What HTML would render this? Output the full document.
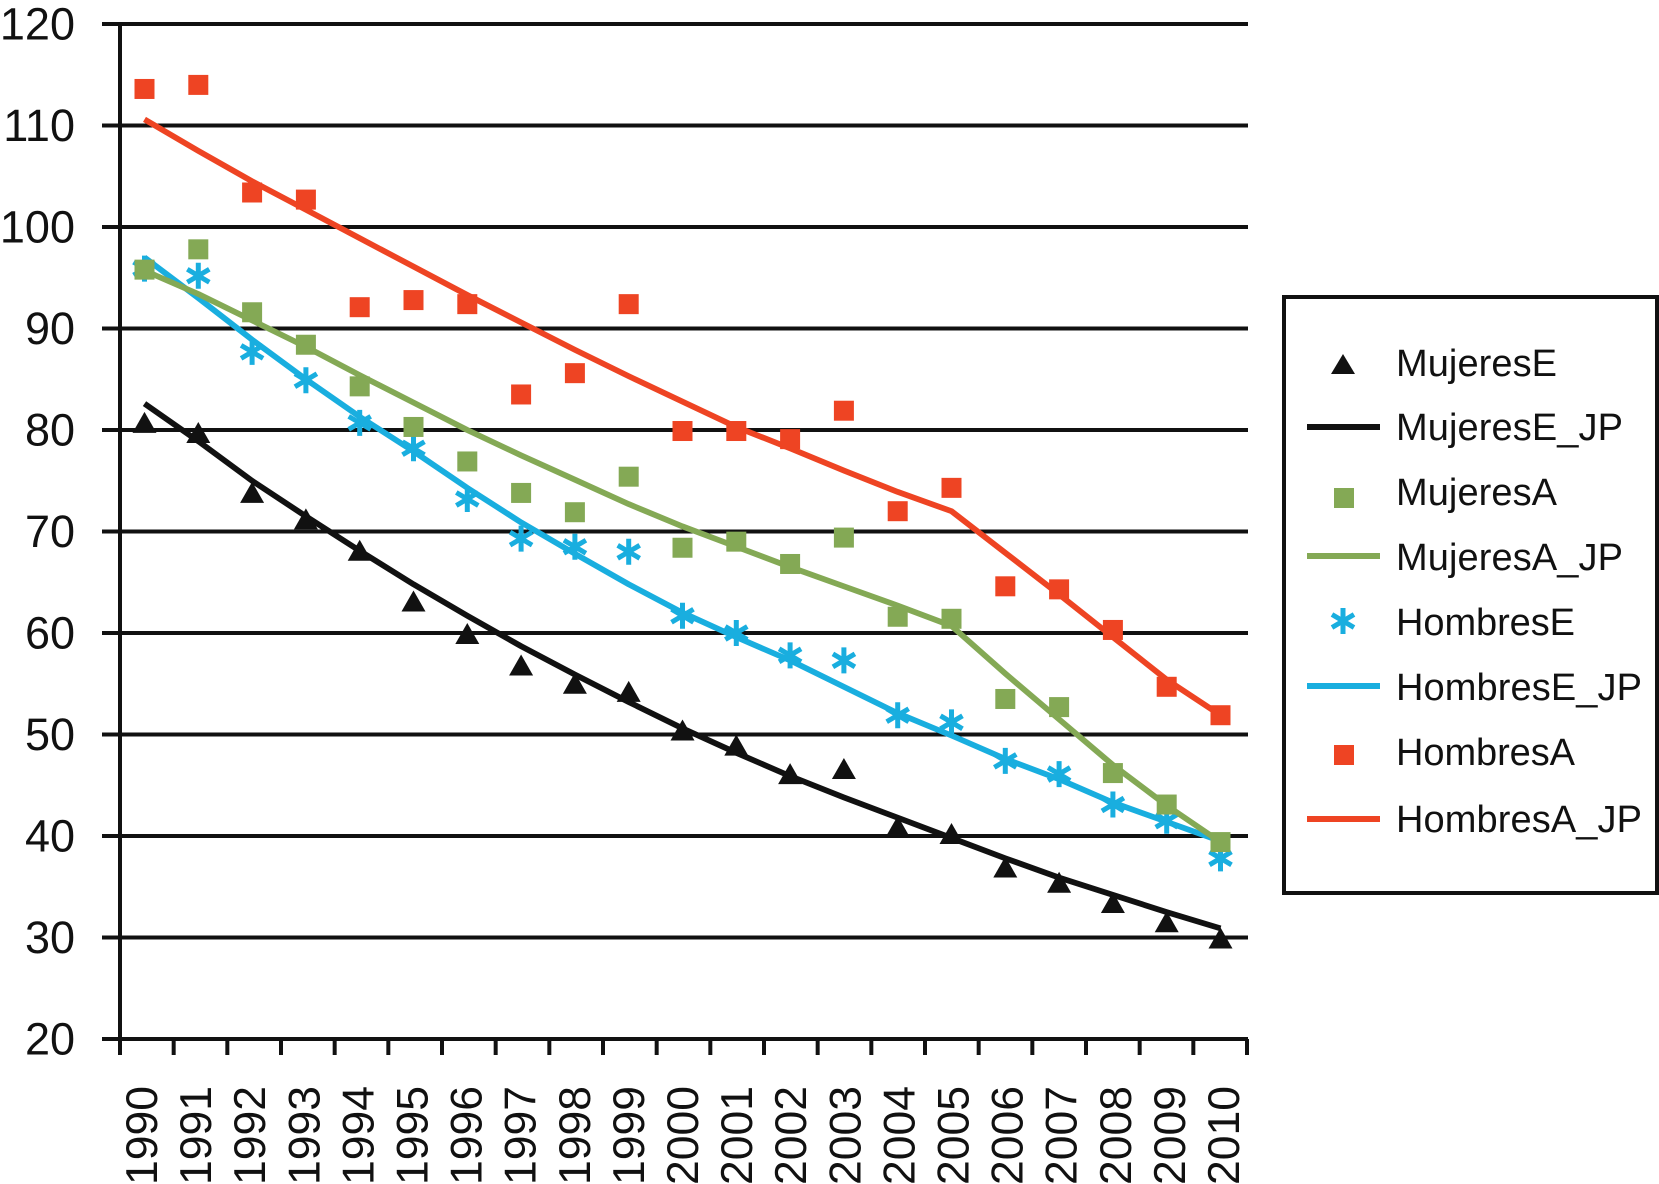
<!DOCTYPE html>
<html lang="es">
<head>
<meta charset="utf-8">
<title>MujeresE / HombresE chart</title>
<style>
html,body{margin:0;padding:0;background:#fff;width:1659px;height:1184px;overflow:hidden}
svg{display:block}
text{font-family:"Liberation Sans",Arial,sans-serif;fill:#111}
</style>
</head>
<body>
<svg id="chart" width="1659" height="1184" viewBox="0 0 1659 1184" xmlns="http://www.w3.org/2000/svg">
  <g id="axes"></g>
  <g id="series"></g>
  <g>
    <rect x="1284" y="297" width="373" height="596" fill="#fff" stroke="#111" stroke-width="4"/>
    <polygon points="1343,354 1355,374 1331,374" fill="#111"/>
    <text x="1396" y="376" font-size="38" textLength="161" lengthAdjust="spacing">MujeresE</text>
    <line x1="1307" x2="1380" y1="427" y2="427" stroke="#111" stroke-width="6"/>
    <text x="1396" y="440" font-size="38" textLength="227" lengthAdjust="spacing">MujeresE_JP</text>
    <rect x="1334" y="488" width="20" height="20" fill="#84A955"/>
    <text x="1396" y="505" font-size="38" textLength="161" lengthAdjust="spacing">MujeresA</text>
    <line x1="1307" x2="1380" y1="556" y2="556" stroke="#84A955" stroke-width="6"/>
    <text x="1396" y="570" font-size="38" textLength="227" lengthAdjust="spacing">MujeresA_JP</text>
    <path d="M1343,608V634M1332,614.5L1354,627.5M1354,614.5L1332,627.5" stroke="#19AEDF" stroke-width="5" fill="none"/>
    <text x="1396" y="635" font-size="38" textLength="179" lengthAdjust="spacing">HombresE</text>
    <line x1="1307" x2="1380" y1="686" y2="686" stroke="#19AEDF" stroke-width="6"/>
    <text x="1396" y="700" font-size="38" textLength="246" lengthAdjust="spacing">HombresE_JP</text>
    <rect x="1334" y="745" width="20" height="20" fill="#EE4423"/>
    <text x="1396" y="765" font-size="38" textLength="179" lengthAdjust="spacing">HombresA</text>
    <line x1="1307" x2="1380" y1="819" y2="819" stroke="#EE4423" stroke-width="6"/>
    <text x="1396" y="832" font-size="38" textLength="246" lengthAdjust="spacing">HombresA_JP</text>
  </g>
</svg>
<script>
const years = ["1990","1991","1992","1993","1994","1995","1996","1997","1998","1999","2000","2001","2002","2003","2004","2005","2006","2007","2008","2009","2010"];
const yTicks = [20,30,40,50,60,70,80,90,100,110,120];

const mujeresE    = [80.7,79.7,73.8,71.2,68.1,63.1,59.9,56.8,55.0,54.2,50.4,48.9,46.1,46.6,40.9,40.2,36.9,35.4,33.4,31.5,29.9];
const mujeresEJP  = [82.6,78.9,75.0,71.5,68.1,64.8,61.7,58.7,55.9,53.2,50.6,48.2,45.9,43.8,41.8,39.8,37.8,35.9,34.2,32.5,30.9];
const mujeresA    = [95.8,97.8,91.6,88.4,84.3,80.3,76.9,73.8,71.9,75.4,68.4,69.0,66.8,69.4,61.6,61.4,53.5,52.7,46.2,43.1,39.4];
const mujeresAJP  = [95.7,93.4,90.8,88.2,85.4,82.7,80.0,77.5,75.1,72.7,70.5,68.5,66.5,64.6,62.7,60.7,56.0,51.5,47.0,43.0,39.4];
const hombresE    = [95.9,95.2,87.7,84.9,80.7,78.2,73.2,69.3,68.5,68.0,61.7,60.0,57.8,57.3,51.9,51.2,47.4,46.1,43.1,41.5,37.8];
const hombresEJP  = [97.0,93.0,88.9,85.0,81.3,77.9,74.3,70.9,67.8,64.8,62.0,59.6,57.3,54.7,52.1,49.9,47.6,45.6,43.3,41.4,39.5];
const hombresA    = [113.6,114.0,103.4,102.7,92.1,92.8,92.4,83.5,85.6,92.4,79.9,79.9,79.1,81.9,72.0,74.3,64.6,64.3,60.3,54.7,51.9];
const hombresAJP  = [110.6,107.5,104.5,101.7,98.9,96.1,93.3,90.6,87.9,85.3,82.8,80.3,78.2,76.0,73.9,72.0,67.9,63.8,59.6,55.4,51.9];

const NS = "http://www.w3.org/2000/svg";
const axes = document.getElementById("axes");
const seriesGroup = document.getElementById("series");
const INK = "#111";

function yScale(v){ return 1039 - (v - 20) * 10.15; }
function xScale(i){ return 144.5 + 53.8 * i; }
function xTick(i){ return 120 + (1247 - 120) / years.length * i; }
function xLabel(i){ return 157 + 54.1 * i; }

function svgEl(tag, attrs, parent){
  const el = document.createElementNS(NS, tag);
  for (const k in attrs) el.setAttribute(k, attrs[k]);
  parent.appendChild(el);
  return el;
}

yTicks.forEach(function(t){
  const y = yScale(t);
  const grid = svgEl("line", {x1:102, x2:1248, y1:y, y2:y, stroke:INK, "stroke-width":4}, axes);
  
  
  const lab = svgEl("text", {x:75, y:y + 15.5, "font-size":45, "text-anchor":"end"}, axes);
  lab.textContent = t;
  
  
});

const yAxisLine = svgEl("line", {x1:120, x2:120, y1:22, y2:1055, stroke:INK, "stroke-width":4}, axes);



for (let i = 0; i <= years.length; i++){
  const x = xTick(i);
  const tick = svgEl("line", {x1:x, x2:x, y1:1039, y2:1055, stroke:INK, "stroke-width":4}, axes);
  
  
}

years.forEach(function(yr, i){
  const lab = svgEl("text", {transform:"translate(" + xLabel(i) + ",1086) rotate(-90)", "font-size":44.5, "text-anchor":"end"}, axes);
  lab.textContent = yr;
  
  
});

function drawLine(values, color, name){
  const d = values.map(function(v, i){ return (i ? "L" : "M") + xScale(i).toFixed(1) + "," + yScale(v).toFixed(1); }).join("");
  const path = svgEl("path", {d:d, fill:"none", stroke:color, "stroke-width":5.8, "stroke-linejoin":"round"}, seriesGroup);
  
  
}

function drawSquares(values, color, name){
  values.forEach(function(v, i){
    const r = svgEl("rect", {x:xScale(i) - 10, y:yScale(v) - 10, width:20, height:20, fill:color}, seriesGroup);
    
    
  });
}

function drawTriangles(values, color, name){
  values.forEach(function(v, i){
    const x = xScale(i), y = yScale(v);
    const p = svgEl("polygon", {points:(x) + "," + (y - 11) + " " + (x + 12) + "," + (y + 10) + " " + (x - 12) + "," + (y + 10), fill:color}, seriesGroup);
    
    
  });
}

function drawStars(values, color, name){
  values.forEach(function(v, i){
    const x = xScale(i), y = yScale(v);
    const d = "M" + x + "," + (y - 13) + "V" + (y + 13) +
              "M" + (x - 11) + "," + (y - 6.5) + "L" + (x + 11) + "," + (y + 6.5) +
              "M" + (x + 11) + "," + (y - 6.5) + "L" + (x - 11) + "," + (y + 6.5);
    const s = svgEl("path", {d:d, fill:"none", stroke:color, "stroke-width":5}, seriesGroup);
    
    
  });
}

drawLine(mujeresEJP, "#111", "mujerese-jp-line");
drawTriangles(mujeresE, "#111", "mujerese-point");
drawLine(hombresEJP, "#19AEDF", "hombrese-jp-line");
drawStars(hombresE, "#19AEDF", "hombrese-point");
drawLine(mujeresAJP, "#84A955", "mujeresa-jp-line");
drawSquares(mujeresA, "#84A955", "mujeresa-point");
drawLine(hombresAJP, "#EE4423", "hombresa-jp-line");
drawSquares(hombresA, "#EE4423", "hombresa-point");
</script>
</body>
</html>
